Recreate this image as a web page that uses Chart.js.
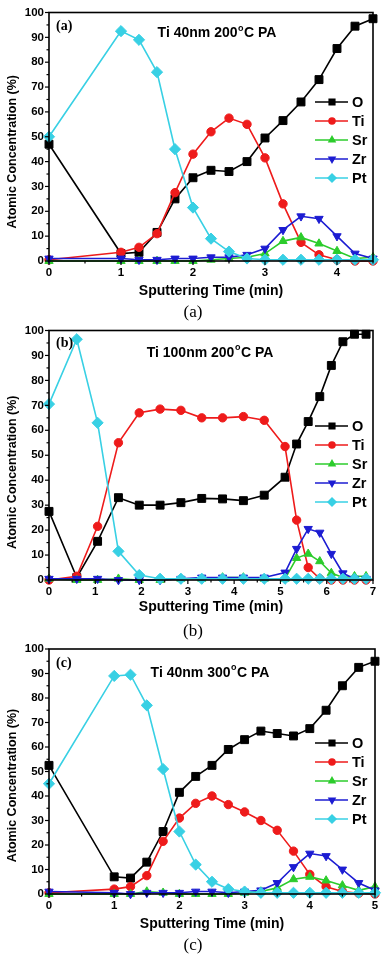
<!DOCTYPE html>
<html>
<head>
<meta charset="utf-8">
<script src="https://cdn.jsdelivr.net/npm/chart.js@4.4.1/dist/chart.umd.min.js"></script>
<style>
  body { margin: 0; background: #fff; width: 386px; height: 959px; position: relative; overflow: hidden; }
  canvas { position: absolute; left: 0; }
  .cap { position: absolute; left: 0; width: 386px; text-align: center; font: 17px "Liberation Serif", "DejaVu Serif", serif; color: #000; line-height: 18px; }
</style>
</head>
<body>
<canvas id="chartA" width="386" height="305" style="top:0px"></canvas>
<div class="cap" style="top:303px">(a)</div>
<canvas id="chartB" width="386" height="303" style="top:318px"></canvas>
<div class="cap" style="top:622px">(b)</div>
<canvas id="chartC" width="386" height="301" style="top:637px"></canvas>
<div class="cap" style="top:936px">(c)</div>

<script>
// ---- data ----
const elements = ['O', 'Ti', 'Sr', 'Zr', 'Pt'];

// (a) Ti 40nm 200C PA
const timeA = [0, 1, 1.25, 1.5, 1.75, 2, 2.25, 2.5, 2.75, 3, 3.25, 3.5, 3.75, 4, 4.25, 4.5];
const oA  = [47, 3, 3.5, 11.5, 25, 33.5, 36.5, 36, 40, 49.5, 56.5, 64, 73, 85.5, 94.5, 97.5];
const tiA = [0.5, 3.5, 5.5, 11, 27.5, 43, 52, 57.5, 55, 41.5, 23, 7.5, 2.5, 0.5, 0, 0];
const srA = [0, 0, 0, 0, 0, 0, 0.5, 1, 1.5, 3, 8, 9.5, 7, 4, 1, 1.5];
const zrA = [1, 1, 0.5, 0.5, 1, 1, 1.5, 1.5, 2.5, 5, 12.5, 18, 17, 10, 3, 1];
const ptA = [50, 92.5, 89, 76, 45, 21.5, 9, 3.8, 1, 0.5, 0.5, 0.5, 0.5, 0.5, 0.5, 0.5];

// (b) Ti 100nm 200C PA
const timeB = [0, 0.6, 1.05, 1.5, 1.95, 2.4, 2.85, 3.3, 3.75, 4.2, 4.65, 5.1, 5.35, 5.6, 5.85, 6.1, 6.35, 6.6, 6.85];
const oB  = [27.5, 1, 15.5, 33, 30, 30, 31, 32.7, 32.5, 31.8, 34, 41.2, 54.5, 63.5, 73.5, 86, 95.5, 98.5, 98.5];
const tiB = [0, 1.5, 21.5, 55, 67, 68.5, 68, 65, 65, 65.5, 64, 53.5, 24, 5, 0.5, 0, 0, 0, 0];
const srB = [0.5, 0, 0, 0.5, 0, 0, 0.5, 0.5, 1, 1, 0.5, 0.5, 8.8, 10.5, 7.5, 2.8, 1, 1.5, 1.5];
const zrB = [0.5, 0.5, 0.5, 0, 0, 0, 0.5, 1, 1, 1, 1, 3, 12.5, 20.5, 19, 10.5, 2.7, 0.5, 0.5];
const ptB = [70.5, 96.5, 63, 11.5, 2, 0.5, 0.5, 0.5, 0.5, 0.5, 0.5, 0.5, 0.5, 0.5, 0.5, 0.5, 0.5, 0.5, 0.5];

// (c) Ti 40nm 300C PA
const timeC = [0, 1, 1.25, 1.5, 1.75, 2, 2.25, 2.5, 2.75, 3, 3.25, 3.5, 3.75, 4, 4.25, 4.5, 4.75, 5];
const oC  = [52.5, 7, 6.5, 13, 25.5, 41.5, 48, 52.5, 59, 63, 66.5, 65.5, 64.5, 67.5, 75, 85, 92.5, 95];
const tiC = [0.5, 2, 3, 7.5, 21.5, 31, 37, 40, 36.5, 33.5, 30, 26, 17.5, 8, 3, 1, 0.3, 0];
const srC = [0, 0, 0, 1, 0.5, 0, 0, 0, 0, 0.5, 1, 2.5, 6, 7, 5.5, 3.5, 1.5, 3];
const zrC = [1, 0.5, 0, 0.5, 0.5, 0.5, 1, 1, 0.5, 1, 1.5, 4.5, 11, 16.5, 15.5, 10, 4.5, 1.5];
const ptC = [45, 89, 89.5, 77, 51, 25.5, 12, 5, 2, 1, 0.5, 0.5, 0.5, 0.5, 0.5, 0.5, 0.5, 0.5];

const panelLabels = ['(a)', '(b)', '(c)'];
const sampleNames = ['Ti 40nm 200°C PA', 'Ti 100nm 200°C PA', 'Ti 40nm 300°C PA'];
const xTitle = 'Sputtering Time (min)';
const yTitle = 'Atomic Concentration (%)';
const xMaxes = [4.5, 7, 5];

// ---- styles ----
const colors = ['#000000', '#ee1b1b', '#2ccc2c', '#1c1cd2', '#38d0e4'];
const pointStyles = ['rect', 'circle', 'triangle', 'triangle', 'rectRot'];
const rotations = [0, 0, 0, 180, 0];
const radii = [5.6, 4.2, 4.8, 4.8, 5.6];

Chart.defaults.font.family = '"Liberation Sans", Arial, sans-serif';
Chart.defaults.color = '#000';

function line(ctx, x1, y1, x2, y2) {
  ctx.beginPath(); ctx.moveTo(x1, y1); ctx.lineTo(x2, y2); ctx.stroke();
}

const NAME_FONT = 'bold 14px "Liberation Sans", Arial, sans-serif';

const decorPlugin = {
  id: 'decor',
  afterDatasetsDraw(chart, args, o) {
    const { ctx, chartArea: a, scales: { x, y } } = chart;
    ctx.save();
    ctx.strokeStyle = '#000';
    ctx.lineWidth = 1.6;
    ctx.strokeRect(a.left, a.top, a.right - a.left, a.bottom - a.top);
    ctx.lineWidth = 1.2;
    for (let v = 0; v <= 100; v += 5) {
      const py = y.getPixelForValue(v);
      line(ctx, a.left - (v % 10 === 0 ? 4 : 2.5), py, a.left, py);
    }
    for (let v = 0; v <= x.max + 1e-6; v += 0.5) {
      const px = x.getPixelForValue(v);
      line(ctx, px, a.bottom, px, a.bottom + (v % 1 === 0 ? 4 : 2.5));
    }

    ctx.fillStyle = '#000';
    ctx.textBaseline = 'middle';

    // y axis title (sits a little below the plot centre in the original)
    ctx.save();
    ctx.translate(13, (a.top + a.bottom) / 2 + o.yTitleShift);
    ctx.rotate(-Math.PI / 2);
    ctx.textAlign = 'center';
    ctx.font = 'bold 12.5px "Liberation Sans", Arial, sans-serif';
    ctx.fillText(yTitle, 0, 0);
    ctx.restore();

    // panel letter
    ctx.textAlign = 'left';
    ctx.font = 'bold 14px "Liberation Serif", serif';
    ctx.fillText(o.label, a.left + 7, a.top + o.labelDy);

    // sample name with superscript o
    const parts = o.name.split('°');
    const supFont = 'bold 9px "Liberation Sans", Arial, sans-serif';
    ctx.font = NAME_FONT;
    const w1 = ctx.measureText(parts[0]).width;
    const w3 = ctx.measureText(parts[1]).width;
    ctx.font = supFont;
    const w2 = ctx.measureText('o').width + 1;
    const tx = o.nameCx - (w1 + w2 + w3) / 2;
    const ty = a.top + o.nameDy;
    ctx.font = NAME_FONT;
    ctx.fillText(parts[0], tx, ty);
    ctx.font = supFont;
    ctx.fillText('o', tx + w1 + 0.5, ty - 5);
    ctx.font = NAME_FONT;
    ctx.fillText(parts[1], tx + w1 + w2, ty);

    // legend
    chart.data.datasets.forEach((ds, i) => {
      const ly = a.top + o.legendDy + i * 19;
      ctx.strokeStyle = ds.borderColor;
      ctx.lineWidth = 1.6;
      line(ctx, 315, ly, 348, ly);
      ctx.fillStyle = ds.borderColor;
      Chart.helpers.drawPoint(ctx, {
        pointStyle: ds.pointStyle, rotation: ds.rotation,
        radius: ds.pointRadius * 0.7, borderWidth: 1
      }, 332, ly);
      ctx.fillStyle = '#000';
      ctx.font = 'bold 14.5px "Liberation Sans", Arial, sans-serif';
      ctx.textAlign = 'left';
      ctx.fillText(elements[i], 352, ly + 1);
    });
    ctx.restore();
  }
};

function makeChart(id, idx, times, series, plot, deco) {
  const H = document.getElementById(id).height;
  const datasets = series.map((vals, i) => ({
    label: elements[i],
    data: times.map((t, k) => ({ x: t, y: vals[k] })),
    borderColor: colors[i],
    backgroundColor: colors[i],
    pointBackgroundColor: colors[i],
    pointBorderColor: colors[i],
    borderWidth: 1.6,
    pointStyle: pointStyles[i],
    rotation: rotations[i],
    pointRotation: rotations[i],
    pointRadius: radii[i],
    pointBorderWidth: 1,
    clip: false,
    tension: 0,
    order: 5 - i
  }));
  return new Chart(document.getElementById(id), {
    type: 'line',
    data: { datasets },
    plugins: [decorPlugin],
    options: {
      responsive: false,
      devicePixelRatio: 1,
      animation: false,
      layout: { padding: { top: plot.top, right: 386 - plot.right, left: 0, bottom: 0 } },
      plugins: {
        legend: { display: false },
        tooltip: { enabled: false },
        decor: Object.assign({ label: panelLabels[idx], name: sampleNames[idx] }, deco)
      },
      scales: {
        x: {
          type: 'linear', min: 0, max: xMaxes[idx],
          grid: { display: false, drawTicks: false },
          border: { display: false },
          ticks: { stepSize: 1, includeBounds: false, padding: 5, font: { size: 11.5, weight: 'bold' } },
          title: { display: true, text: xTitle, font: { size: 14, weight: 'bold' }, padding: { top: 0, bottom: 5 } },
          afterFit: s => { s.height = H - plot.bottom; }
        },
        y: {
          min: 0, max: 100,
          grid: { display: false, drawTicks: false },
          border: { display: false },
          ticks: { stepSize: 10, padding: 5, font: { size: 11.5, weight: 'bold' } },
          afterFit: s => { s.width = plot.left; }
        }
      }
    }
  });
}

makeChart('chartA', 0, timeA, [oA, tiA, srA, zrA, ptA],
  { top: 12.5, bottom: 261, left: 49, right: 373 },
  { labelDy: 13.5, nameDy: 21, nameCx: 217, legendDy: 89.5, yTitleShift: 15 });
makeChart('chartB', 1, timeB, [oB, tiB, srB, zrB, ptB],
  { top: 12.5, bottom: 262, left: 49, right: 373 },
  { labelDy: 12.5, nameDy: 22.5, nameCx: 210, legendDy: 95.5, yTitleShift: 17 });
makeChart('chartC', 2, timeC, [oC, tiC, srC, zrC, ptC],
  { top: 12, bottom: 257, left: 49, right: 375 },
  { labelDy: 14, nameDy: 24, nameCx: 210, legendDy: 94, yTitleShift: 14 });
</script>
</body>
</html>
